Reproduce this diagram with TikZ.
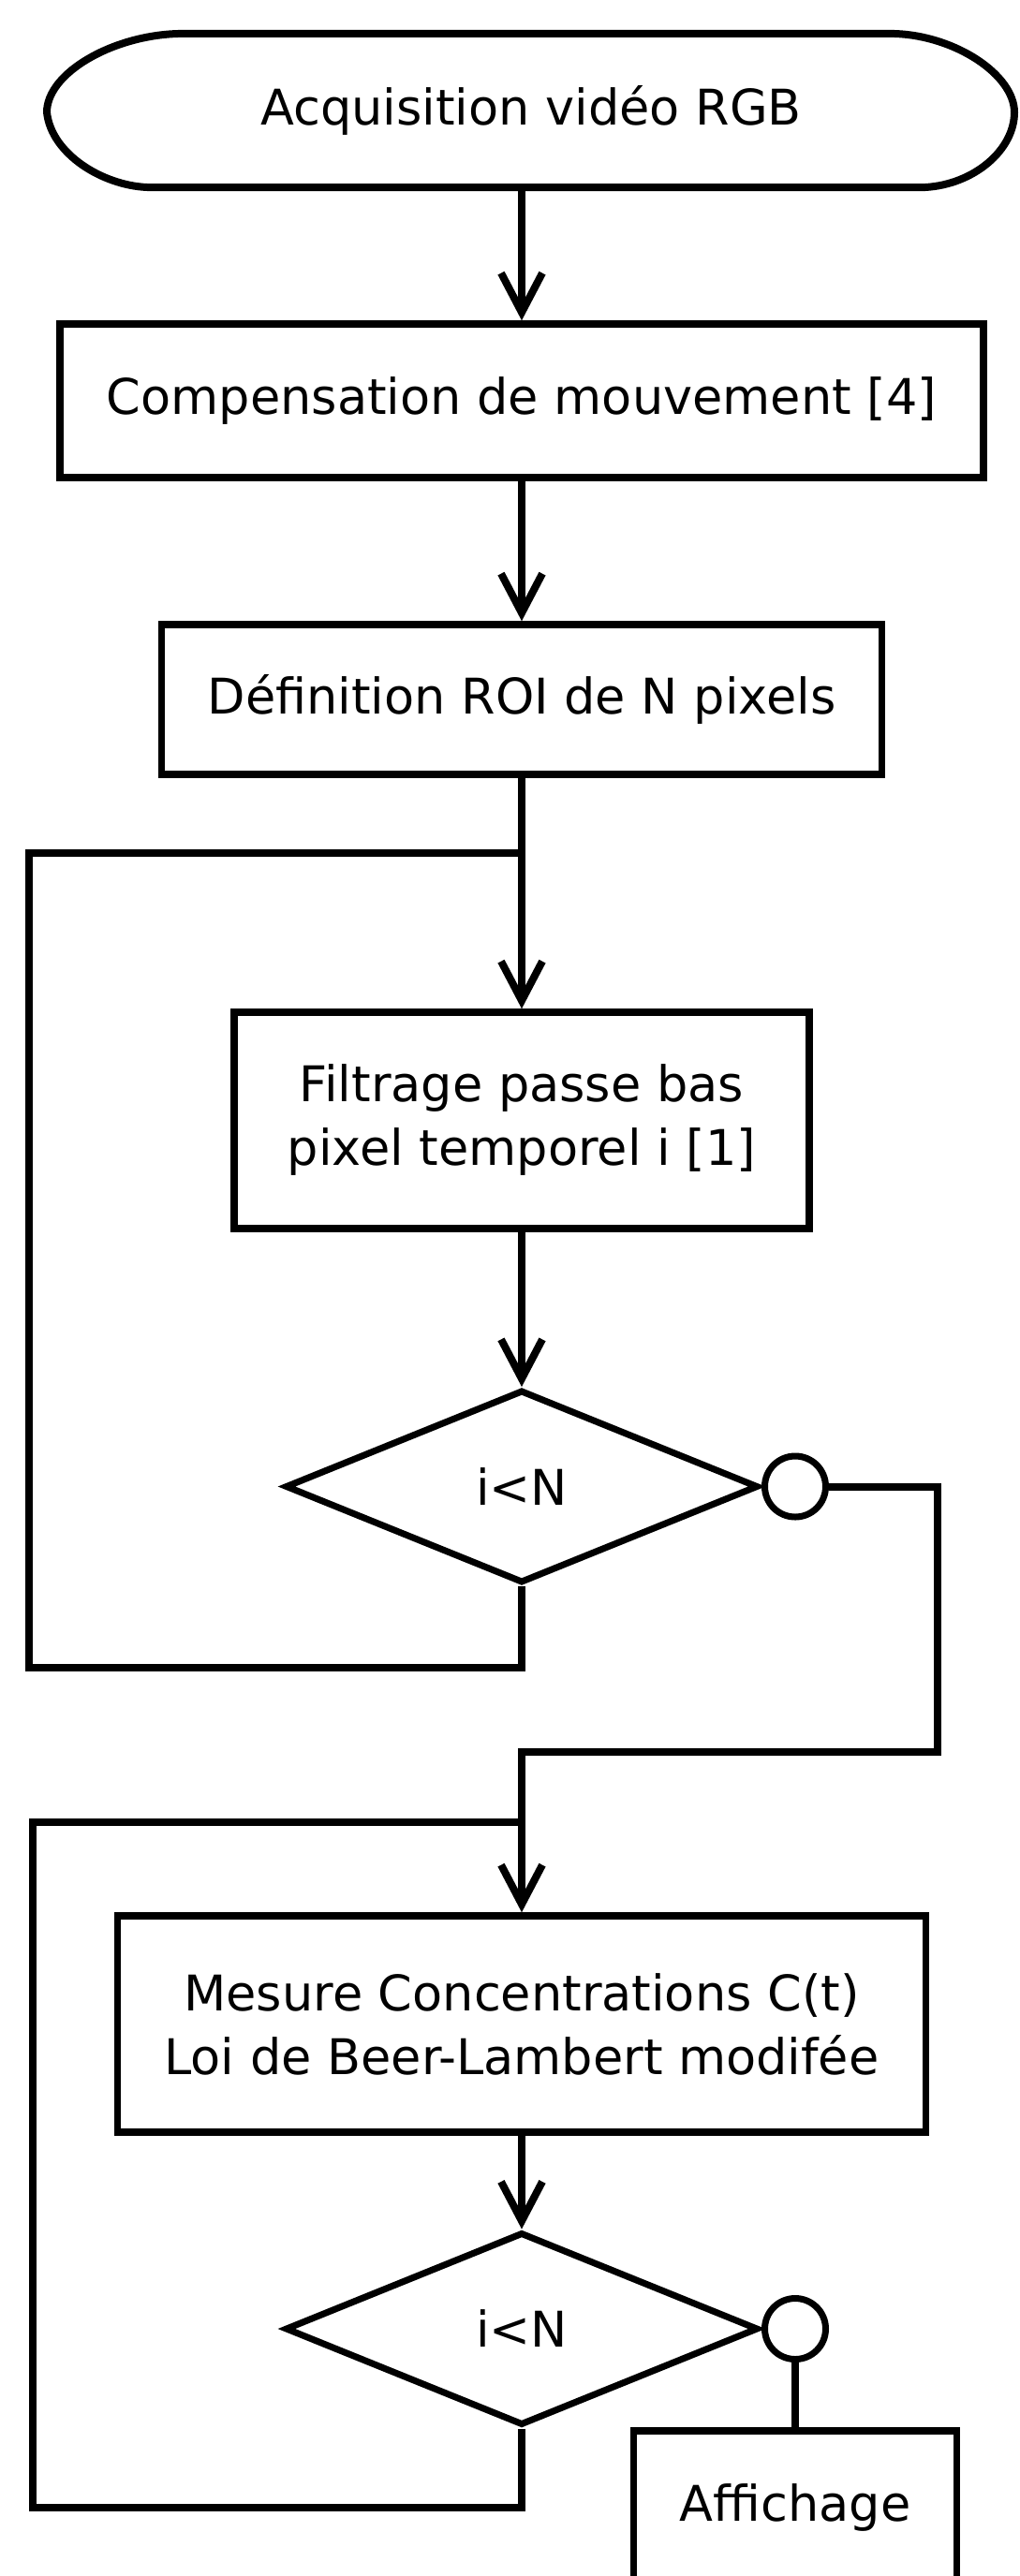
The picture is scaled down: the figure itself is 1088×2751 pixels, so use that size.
\documentclass[tikz,border=0pt]{standalone}
\usepackage{fontspec}
\setmainfont{DejaVu Sans}
\usetikzlibrary{arrows.meta,shapes.geometric}
\begin{document}
\begin{tikzpicture}[x=1pt,y=1pt,
  every node/.style={font=\fontsize{52.5}{68}\selectfont},
  box/.style={draw, line width=7.5pt, rectangle, inner sep=0pt, align=center},
  dec/.style={draw, line width=7pt, diamond, inner sep=0pt, minimum width=505pt, minimum height=206pt},
  junc/.style={draw, line width=7pt, circle, inner sep=0pt, minimum size=65pt},
  link/.style={line width=8pt},
  arr/.style={link, -{Straight Barb[length=42pt,width=44pt]}}
]
\useasboundingbox (0,0) rectangle (1088,-2751);
\clip (0,0) rectangle (1088,-2751);
\fill[white] (0,0) rectangle (1088,-2751);

% terminal
\node[minimum width=1033pt, minimum height=164pt, inner sep=0pt, outer sep=0pt] (acq) at (567,-118) {Acquisition vidéo RGB};
\draw[line width=8pt, line join=round] (190,-36) -- (955,-36)
  .. controls (1020,-38) and (1083,-80) .. (1083,-120)
  .. controls (1083,-160) and (1040,-197) .. (988,-200)
  -- (157,-200)
  .. controls (110,-198) and (55,-165) .. (50,-120)
  .. controls (50,-78) and (120,-38) .. cycle;

\node[box, minimum width=986pt, minimum height=164pt] (comp) at (557,-428) {Compensation de mouvement [4]};
\node[box, minimum width=769pt, minimum height=160pt] (roi) at (557,-747) {Définition ROI de N pixels};
\node[box, minimum width=614pt, minimum height=231pt] (filt) at (557,-1196.5) {Filtrage passe bas\\pixel temporel i [1]};
\node[dec] (dec1) at (557,-1587.5) {i<N};
\node[junc, anchor=west] (circ1) at (dec1.east) {};
\node[box, minimum width=863pt, minimum height=231pt] (meas) at (557,-2161.5) {Mesure Concentrations C(t)\\Loi de Beer-Lambert modifée};
\node[dec] (dec2) at (557,-2487) {i<N};
\node[junc, anchor=west] (circ2) at (dec2.east) {};
\node[box, minimum width=345pt, minimum height=164pt] (aff) at (circ2.south |- 0,-2678) {Affichage};

% helper coordinates
\coordinate (j1) at (557,-911);
\coordinate (l1) at (31,-1781);
\coordinate (r1) at (1001,-1871);
\coordinate (j2) at (557,-1946);
\coordinate (l2) at (35,-2678);

% connectors
\draw[arr] (acq.south -| comp.north) -- (comp.north);
\draw[arr] (comp.south) -- (roi.north);
\draw[arr] (roi.south) -- (filt.north);
\draw[arr] (filt.south) -- (dec1.north);
\draw[link] (dec1.south) |- (l1) |- (j1);
\draw[arr] (circ1.east) -| (r1) -| (meas.north);
\draw[arr] (meas.south) -- (dec2.north);
\draw[link] (dec2.south) |- (l2) |- (j2);
\draw[link] (circ2.south) -- (aff.north);
\end{tikzpicture}
\end{document}
